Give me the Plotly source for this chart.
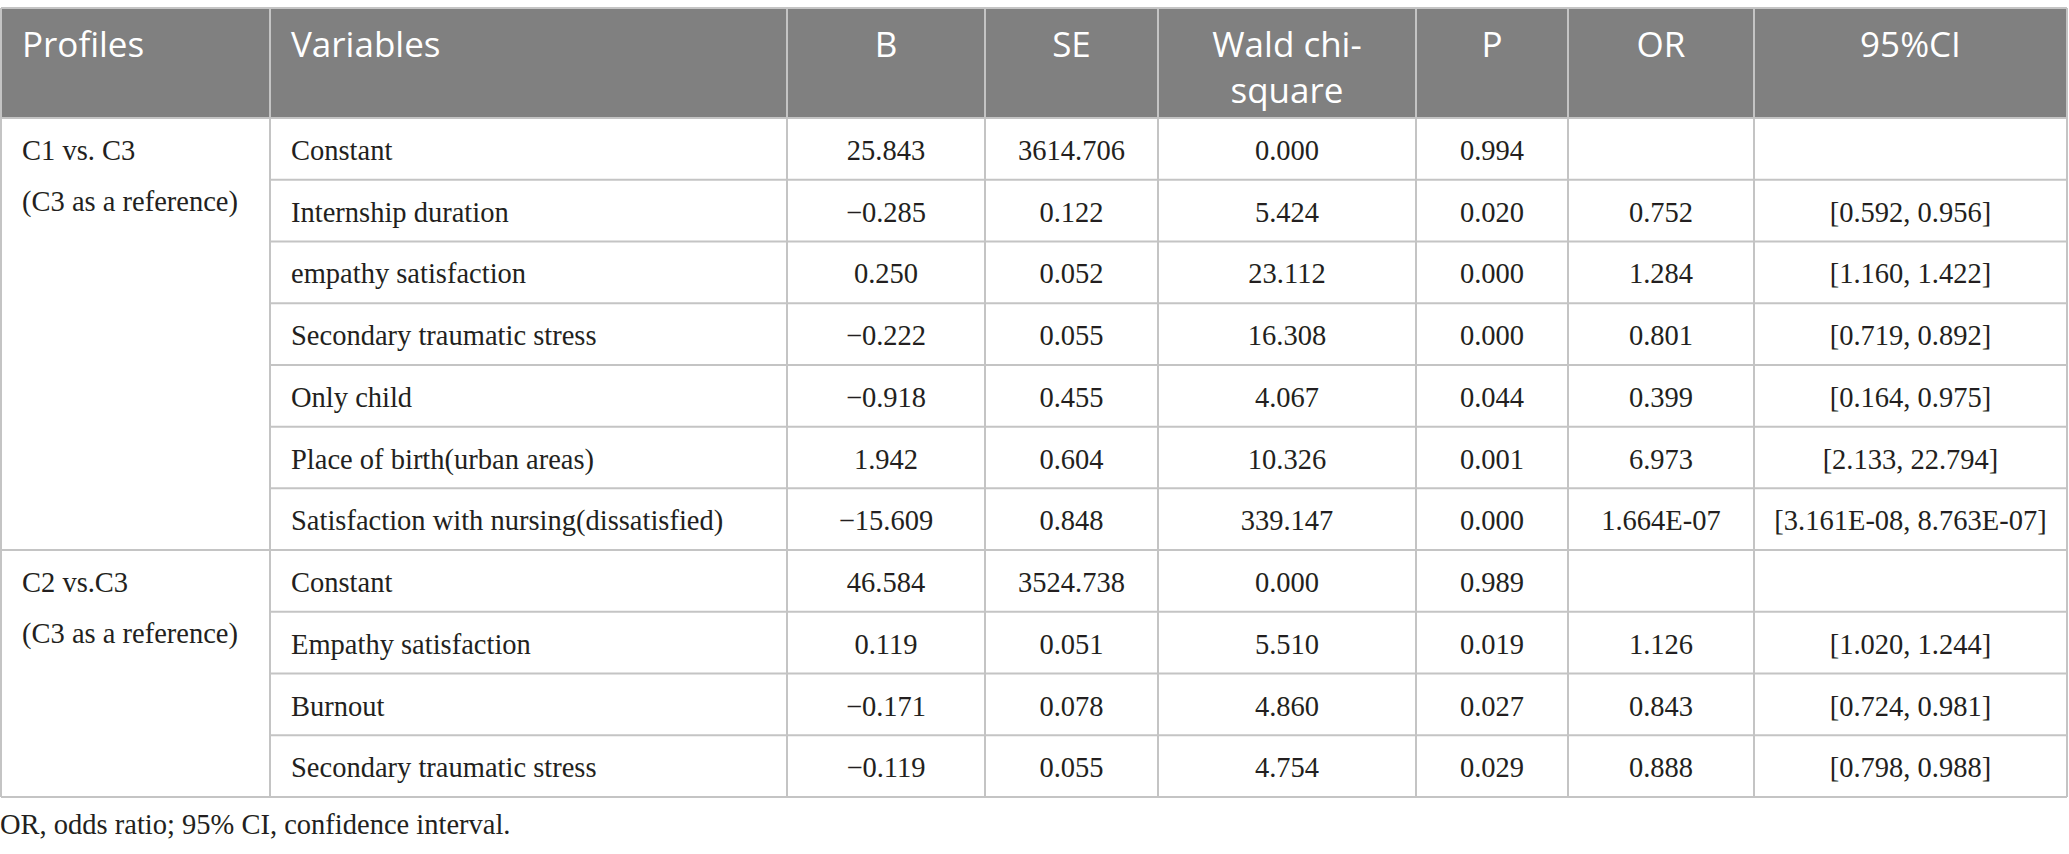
import plotly.graph_objects as go

# Datos de la tabla
headers = ["Profiles", "Variables", "B", "SE", "Wald chi-<br>square", "P", "OR", "95%CI"]

profiles = ["C1 vs. C3<br>(C3 as a reference)", "C2 vs.C3<br>(C3 as a reference)"]
profile_rows = [7, 4]

variables = [
    "Constant",
    "Internship duration",
    "empathy satisfaction",
    "Secondary traumatic stress",
    "Only child",
    "Place of birth(urban areas)",
    "Satisfaction with nursing(dissatisfied)",
    "Constant",
    "Empathy satisfaction",
    "Burnout",
    "Secondary traumatic stress",
]
b_vals = ["25.843", "−0.285", "0.250", "−0.222", "−0.918", "1.942", "−15.609",
          "46.584", "0.119", "−0.171", "−0.119"]
se_vals = ["3614.706", "0.122", "0.052", "0.055", "0.455", "0.604", "0.848",
           "3524.738", "0.051", "0.078", "0.055"]
wald_vals = ["0.000", "5.424", "23.112", "16.308", "4.067", "10.326", "339.147",
             "0.000", "5.510", "4.860", "4.754"]
p_vals = ["0.994", "0.020", "0.000", "0.000", "0.044", "0.001", "0.000",
          "0.989", "0.019", "0.027", "0.029"]
or_vals = ["", "0.752", "1.284", "0.801", "0.399", "6.973", "1.664E-07",
           "", "1.126", "0.843", "0.888"]
ci_vals = ["", "[0.592, 0.956]", "[1.160, 1.422]", "[0.719, 0.892]", "[0.164, 0.975]",
           "[2.133, 22.794]", "[3.161E-08, 8.763E-07]", "", "[1.020, 1.244]",
           "[0.724, 0.981]", "[0.798, 0.988]"]

footnote = "OR, odds ratio; 95% CI, confidence interval."

# Geometria (pixeles)
W, H = 2069, 854
col_edges = [1, 270, 787, 985, 1158, 1416, 1568, 1754, 2067]
top, head_bottom, bottom = 8, 118, 797
n_rows = len(variables)
row_h = (bottom - head_bottom) / n_rows
pad = 21

head_color = "#808080"
line_color = "#c4c4c4"
text_color = "#231f20"
serif = "Liberation Serif"
sans = "Open Sans"
body_size = 28.5
head_size = 35

row_center = [head_bottom + (i + 0.5) * row_h + 4 for i in range(n_rows)]

fig = go.Figure()

# Celdas del encabezado (alineadas arriba)
head_x = [col_edges[j] + pad if j < 2 else (col_edges[j] + col_edges[j + 1]) / 2
          for j in range(len(headers))]
head_pos = ["bottom right" if j < 2 else "bottom center" for j in range(len(headers))]

fig.add_trace(go.Scatter(
    x=head_x, y=[31] * len(headers), text=headers, mode="text", textposition=head_pos,
    textfont=dict(family=sans, size=head_size, color="white"),
    hoverinfo="skip", showlegend=False,
))

# Columna de perfiles
prof_x, prof_y, prof_t = [], [], []
start = 0
for p, n in zip(profiles, profile_rows):
    for k, line in enumerate(p.split("<br>")):
        prof_x.append(col_edges[0] + pad)
        prof_y.append(row_center[start] + k * 51)
        prof_t.append(line)
    start += n

fig.add_trace(go.Scatter(
    x=prof_x, y=prof_y, text=prof_t, mode="text", textposition="middle right",
    textfont=dict(family=serif, size=body_size, color=text_color),
    hoverinfo="skip", showlegend=False,
))

# Columna de variables
fig.add_trace(go.Scatter(
    x=[col_edges[1] + pad] * n_rows, y=row_center, text=variables, mode="text",
    textposition="middle right",
    textfont=dict(family=serif, size=body_size, color=text_color),
    hoverinfo="skip", showlegend=False,
))

# Columnas numericas
for j, vals in enumerate([b_vals, se_vals, wald_vals, p_vals, or_vals, ci_vals], start=2):
    xc = (col_edges[j] + col_edges[j + 1]) / 2
    fig.add_trace(go.Scatter(
        x=[xc] * n_rows, y=row_center, text=vals, mode="text",
        textposition="middle center",
        textfont=dict(family=serif, size=body_size, color=text_color),
        hoverinfo="skip", showlegend=False,
    ))

# Nota al pie
fig.add_trace(go.Scatter(
    x=[0], y=[827], text=[footnote], mode="text", textposition="middle right",
    textfont=dict(family=serif, size=body_size, color=text_color),
    hoverinfo="skip", showlegend=False,
))

# Fondo del encabezado y lineas
shapes = [dict(type="rect", xref="x", yref="y", x0=col_edges[0], x1=col_edges[-1],
               y0=top, y1=head_bottom, fillcolor=head_color, line_width=0, layer="below")]

def hline(y, x0, x1):
    return dict(type="line", xref="x", yref="y", x0=x0, x1=x1, y0=y, y1=y,
                line=dict(color=line_color, width=2))

def vline(x, y0, y1):
    return dict(type="line", xref="x", yref="y", x0=x, x1=x, y0=y0, y1=y1,
                line=dict(color=line_color, width=2))

shapes.append(hline(top, col_edges[0], col_edges[-1]))
shapes.append(hline(head_bottom, col_edges[0], col_edges[-1]))
shapes.append(hline(bottom, col_edges[0], col_edges[-1]))

group_ends = []
acc = 0
for n in profile_rows:
    acc += n
    group_ends.append(acc)

for i in range(1, n_rows):
    y = head_bottom + i * row_h
    x0 = col_edges[0] if i in group_ends else col_edges[1]
    shapes.append(hline(y, x0, col_edges[-1]))

for x in col_edges:
    shapes.append(vline(x, top, bottom))

fig.update_layout(
    width=W, height=H,
    margin=dict(l=0, r=0, t=0, b=0),
    paper_bgcolor="white", plot_bgcolor="white",
    shapes=shapes,
    xaxis=dict(range=[0, W], visible=False, fixedrange=True),
    yaxis=dict(range=[H, 0], visible=False, fixedrange=True),
)

fig.write_html(
    "out.html",
    config={"displayModeBar": False, "staticPlot": True},
    post_script="document.body.style.margin='0';document.body.style.overflow='hidden';",
)
